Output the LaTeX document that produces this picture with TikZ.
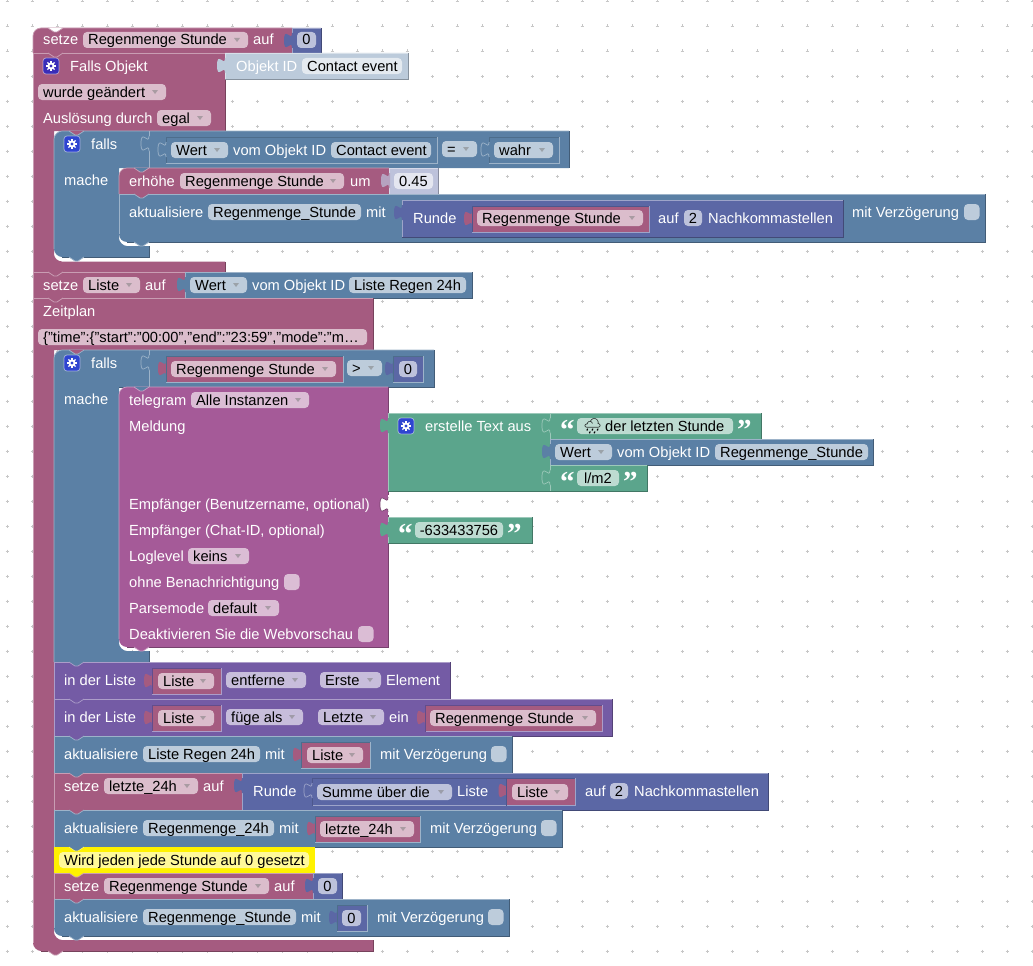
\documentclass[tikz,border=0pt]{standalone}
\usepackage{fontspec}
\setmainfont{Liberation Sans}
\newfontfamily\bkEmo{Noto Emoji}
\newfontfamily\bkQuote{Liberation Serif}[BoldFont={Liberation Serif Bold}]
\definecolor{pk}{HTML}{A55B80}
\definecolor{bl}{HTML}{5B80A5}
\definecolor{ind}{HTML}{5B67A5}
\definecolor{pur}{HTML}{745BA5}
\definecolor{grn}{HTML}{5BA58C}
\definecolor{tel}{HTML}{A55A98}
\definecolor{shb}{HTML}{BCCBDB}
\definecolor{shi}{HTML}{BDC2DB}
\definecolor{gearb}{HTML}{2F45D0}
\definecolor{gearp}{HTML}{3A2DB8}
\newcount\bkn
\tikzset{
 edge/.style={line width=.7pt},
 txt/.style={anchor=base west,inner sep=0pt,font=\fontsize{14.67}{16}\selectfont},
 dotm/.style={draw=black!22,line width=.5pt}
}
\newcommand{\bkRect}[7]{%
 \fill[#1] (#2,#3+#6) .. controls (#2,#3+.45*#6) and (#2+.45*#6,#3) .. (#2+#6,#3) -- (#4,#3) -- (#4,#5) -- (#2+#7,#5) .. controls (#2+.45*#7,#5) and (#2,#5-.45*#7) .. (#2,#5-#7) -- cycle;
 \draw[#1!60!white,edge] (#2,#5-#7) -- (#2,#3+#6) .. controls (#2,#3+.45*#6) and (#2+.45*#6,#3) .. (#2+#6,#3) -- (#4,#3);
 \draw[#1!72!black,edge] (#2+#7,#5) -- (#4,#5) -- (#4,#3);
}
% inner value block with inset outline
\newcommand{\bkVal}[6]{% col, x1,y1,x2,y2, outline
 \bkTab{#1}{#2}{#3}%
 \fill[#1] (#2,#3) rectangle (#4,#5);
 \draw[#6!60!white,edge] (#2,#5) -- (#4,#5) -- (#4,#3);
 \draw[#6!85!black,edge] (#2,#5) -- (#2,#3) -- (#4,#3);
}
\newcommand{\bkTab}[3]{%
 \fill[#1] (#2,#3+5) .. controls (#2,#3+15) and (#2-8,#3-3) .. (#2-8,#3+12.5) .. controls (#2-8,#3+28) and (#2,#3+10) .. (#2,#3+20) -- (#2+1,#3+20) -- (#2+1,#3+5) -- cycle;
}
\newcommand{\bkTabL}[3]{%
 \bkTab{#1}{#2}{#3}%
 \draw[#1!60!white,edge] (#2,#3+5) .. controls (#2,#3+15) and (#2-8,#3-3) .. (#2-8,#3+12.5) .. controls (#2-8,#3+28) and (#2,#3+10) .. (#2,#3+20);
}
\newcommand{\bkN}[4]{% fill, x1, y, line colour
 \fill[#1] (#2+15,#3) -- (#2+21,#3+4) -- (#2+24,#3+4) -- (#2+30,#3) -- cycle;
 \draw[#4!60!white,edge] (#2+15,#3) -- (#2+21,#3+4) -- (#2+24,#3+4) -- (#2+30,#3);
}
\newcommand{\bkT}[3]{\global\advance\bkn by 1 \node[txt,text=white] (n\the\bkn) at (#1,#2+5) {#3};}
\newcommand{\bkB}[3]{\global\advance\bkn by 1 \node[txt,text=black] (n\the\bkn) at (#1,#2+5) {#3};}
\newcommand{\bkPill}[3]{\fill[white,fill opacity=.6,rounded corners=4pt] (#1,#3-8) rectangle (#2,#3+8);}
\newcommand{\bkF}[4]{\bkPill{#1}{#2}{#3}\bkB{#1+5}{#3}{#4}}
\newcommand{\bkC}[4]{\bkPill{#1}{#2}{#3}\global\advance\bkn by 1 \node[anchor=base,inner sep=0pt,font=\fontsize{14.67}{16}\selectfont,text=black] (n\the\bkn) at ({(#1+#2)/2},#3+5) {#4};}
\newcommand{\bkD}[4]{\bkF{#1}{#2}{#3}{#4}\fill[black!50,fill opacity=.55] (#2-14,#3-2) -- (#2-8,#3-2) -- (#2-11,#3+2) -- cycle;}
\newcommand{\bkChk}[2]{\fill[white,fill opacity=.6,rounded corners=4pt] (#1,#2-8) rectangle (#1+15.5,#2+8);}
\newcommand{\bkGear}[3]{% x1, yc, colour
 \fill[#3,rounded corners=3pt] (#1,#2-8) rectangle (#1+16,#2+8);
 \draw[white,opacity=.5,edge,rounded corners=3pt] (#1,#2-8) rectangle (#1+16,#2+8);
 \foreach \a in {0,45,...,315}{\draw[white,line width=1.3pt] (#1+8,#2) ++(\a:2.5pt) -- ++(\a:2.6pt);}
 \fill[white] (#1+8,#2) circle[radius=3.6pt];
 \fill[#3] (#1+8,#2) circle[radius=1.6pt];
}
\newcommand{\bkQL}[2]{\global\advance\bkn by 1 \node[anchor=base west,inner sep=0pt,text=white,font=\bkQuote\bfseries\fontsize{29}{29}\selectfont] (n\the\bkn) at (#1,#2+13) {“};}
\newcommand{\bkQR}[2]{\global\advance\bkn by 1 \node[anchor=base west,inner sep=0pt,text=white,font=\bkQuote\bfseries\fontsize{29}{29}\selectfont] (n\the\bkn) at (#1,#2+13) {”};}
\begin{document}
\begin{tikzpicture}[x=1pt,y=-1pt]
\useasboundingbox (0,0) rectangle (1033,966);
\fill[white] (0,0) rectangle (1033,966);
% grid
\foreach \i in {0,...,41}{\foreach \j in {0,...,38}{
 \draw[dotm] (7+25*\i-1.5,1+25*\j) -- (7+25*\i+1.5,1+25*\j) (7+25*\i,1+25*\j-1.5) -- (7+25*\i,1+25*\j+1.5);}}

% ---------- outer C block "Falls Objekt"
\bkRect{pk}{33}{28}{292}{53}{8}{0}
\bkRect{ind}{292}{28}{321}{53}{0}{0}
\bkTab{ind}{292}{28}
\fill[pk] (33,53) -- (225,53) -- (225,131) -- (54,131) -- (54,254) .. controls (54,258) and (58,261.5) .. (62,261.5) -- (225,261.5) -- (225,272) -- (33,272) -- cycle;
\draw[pk!60!white,edge] (33,272) -- (33,53) -- (225,53);
\draw[pk!72!black,edge] (225,53) -- (225,131);
\draw[pk!72!black,edge] (33,272) -- (225,272) -- (225,261.5);
\bkRect{shb}{225}{53}{408}{79}{0}{0}
\bkTab{shb}{225}{53}

% ---------- falls 1
\fill[bl] (54,139) .. controls (54,135) and (58,131) .. (62,131) -- (569,131) -- (569,168) -- (119,168) -- (119,238) .. controls (119,242) and (123,246) .. (127,246) -- (149,246) -- (149,257) -- (62,257) .. controls (58,257) and (54,253) .. (54,249) -- cycle;
\draw[bl!60!white,edge] (54,249) -- (54,139) .. controls (54,135) and (58,131) .. (62,131) -- (569,131);
\draw[bl!72!black,edge] (569,131) -- (569,168) (149,246) -- (149,257) -- (62,257);
\draw[bl!60!white,edge] (149,131) -- (149,168);
\bkTabL{bl}{149}{131}
\bkVal{bl}{166}{137}{437}{163}{bl}
\bkTabL{bl}{166}{137}
\bkVal{bl}{489}{137}{559}{163}{bl}
\bkTabL{bl}{489}{137}
\bkRect{pk}{119}{168}{389}{194}{8}{0}
\bkRect{shi}{389}{168}{438}{194}{0}{0}
\bkTab{shi!70!pk}{389}{168}
\bkRect{bl}{119}{194}{985}{242}{0}{8}
\bkRect{ind}{402}{200}{843}{237}{0}{0}
\bkTab{ind}{402}{200}
\bkVal{pk}{472}{206}{649}{232}{ind}

% ---------- setze Liste
\bkRect{pk}{33}{272}{185}{298}{0}{0}
\bkRect{bl}{185}{272}{472}{298}{0}{0}
\bkTab{bl}{185}{272}

% ---------- outer C block "Zeitplan"
\fill[pk] (33,298) -- (373,298) -- (373,350) -- (54,350) -- (54,932) .. controls (54,936) and (58,940) .. (62,940) -- (373,940) -- (373,951) -- (41,951) .. controls (37,951) and (33,947) .. (33,943) -- cycle;
\draw[pk!60!white,edge] (33,943) -- (33,298) -- (373,298);
\draw[pk!72!black,edge] (373,298) -- (373,350) (373,940) -- (373,951) -- (41,951);

% ---------- falls 2
\fill[bl] (54,358) .. controls (54,354) and (58,350) .. (62,350) -- (434,350) -- (434,387) -- (119,387) -- (119,643) .. controls (119,647) and (123,651) .. (127,651) -- (149,651) -- (149,662) -- (54,662) -- cycle;
\draw[bl!60!white,edge] (54,662) -- (54,358) .. controls (54,354) and (58,350) .. (62,350) -- (434,350);
\draw[bl!72!black,edge] (434,350) -- (434,387) -- (119,387) (149,651) -- (149,662);
\draw[bl!60!white,edge] (149,350) -- (149,387);
\bkTabL{bl}{149}{350}
\bkVal{pk}{166}{356}{343}{382}{bl}
\bkVal{ind}{393}{356}{423}{382}{bl}

% ---------- telegram
\bkRect{tel}{119}{387}{388}{647}{8}{8}
\fill[white] (388,495) rectangle (391,515);
\bkTab{white}{388}{492}
\draw[tel!72!black,edge] (388,497) .. controls (388,507) and (380,489) .. (380,504.5) .. controls (380,520) and (388,502) .. (388,512);
\bkRect{grn}{388}{413}{550}{491}{0}{0}
\bkTab{grn}{388}{413}
\bkRect{grn}{550}{413}{761}{439}{0}{0}
\bkTabL{grn}{550}{413}
\bkRect{bl}{550}{439}{873}{465}{0}{0}
\bkTab{bl}{550}{439}
\bkRect{grn}{550}{465}{647}{491}{0}{0}
\bkTabL{grn}{550}{465}
\bkRect{grn}{388}{517}{532}{543}{0}{0}
\bkTab{grn}{388}{517}

% ---------- statements below falls 2
\bkRect{pur}{54}{662}{450}{699}{0}{0}
\bkVal{pk}{152}{668}{221}{694}{pur}
\bkRect{pur}{54}{699}{612}{736}{0}{0}
\bkVal{pk}{152}{705}{221}{731}{pur}
\bkVal{pk}{425}{705}{602}{731.5}{pur}
\bkRect{bl}{54}{736}{512}{773}{0}{0}
\bkVal{pk}{301}{742}{370}{768}{bl}
\bkRect{pk}{54}{773}{242}{810}{0}{0}
\bkRect{ind}{242}{773}{768}{810}{0}{0}
\bkTab{ind}{242}{773}
\bkVal{ind}{312}{778}{575}{805.5}{ind}
\bkTabL{ind}{312}{778}
\bkVal{pk}{506.5}{778}{575}{805.5}{ind}
\bkRect{bl}{54}{810}{562}{847}{0}{0}
\bkVal{pk}{315}{816}{420}{842}{bl}
\fill[yellow] (54,847) rectangle (315,873);
\bkRect{pk}{54}{873}{313}{899}{0}{0}
\bkRect{ind}{313}{873}{342}{899}{0}{0}
\bkTab{ind}{313}{873}
\bkRect{bl}{54}{899}{509}{936}{0}{8}
\bkVal{ind}{337}{905}{367}{931}{bl}

% ---------- notches
\bkN{white}{33}{28}{pk}
\bkN{pk}{33}{53}{pk}
\bkN{pk}{54}{131}{bl}
\bkN{bl}{119}{168}{pk}
\bkN{pk}{119}{194}{bl}
\bkN{bl}{119}{242}{bl}
\bkN{bl}{54}{257}{bl}
\bkN{pk}{33}{272}{pk}
\bkN{pk}{33}{298}{pk}
\bkN{pk}{54}{350}{bl}
\bkN{bl}{119}{387}{tel}
\bkN{tel}{119}{647}{tel}
\bkN{bl}{54}{662}{pur}
\bkN{pur}{54}{699}{pur}
\bkN{pur}{54}{736}{bl}
\bkN{bl}{54}{773}{pk}
\bkN{pk}{54}{810}{bl}
\bkN{bl}{54}{847}{yellow}
\bkN{yellow}{54}{873}{pk}
\bkN{pk}{54}{899}{bl}
\bkN{bl}{54}{936}{bl}
\bkN{pk}{33}{951}{pk}

% ---------- texts: top
\bkT{43}{40}{setze}
\bkD{83}{248}{40}{Regenmenge Stunde}
\bkT{253}{40}{auf}
\bkC{297}{316}{40}{0}
\bkGear{43}{66}{gearp}
\bkT{70}{66}{Falls Objekt}
\bkT{236}{66}{Objekt ID}
\bkF{302}{402}{66}{Contact event}
\bkD{38}{166}{92}{wurde geändert}
\bkT{43}{118}{Auslösung durch}
\bkD{157}{211}{118}{egal}
\bkGear{64}{144}{gearb}
\bkT{91}{144}{falls}
\bkD{171}{228}{150}{Wert}
\bkT{233}{150}{vom Objekt ID}
\bkF{331}{431}{150}{Contact event}
\bkD{442}{477}{149}{=}
\bkD{494}{553}{150}{wahr}
\bkT{64}{180}{mache}
\bkT{129}{181}{erhöhe}
\bkD{180}{344}{181}{Regenmenge Stunde}
\bkT{350}{181}{um}
\bkC{394}{433}{181}{0.45}
\bkT{129}{212}{aktualisiere}
\bkF{208}{361}{212}{Regenmenge\_Stunde}
\bkT{366}{212}{mit}
\bkT{413}{218}{Runde}
\bkD{477}{643}{218}{Regenmenge Stunde}
\bkT{658}{218}{auf}
\bkC{684}{702}{218}{2}
\bkT{708}{218}{Nachkommastellen}
\bkT{852}{212}{mit Verzögerung}
\bkChk{964}{212}
% setze Liste
\bkT{43}{285}{setze}
\bkD{83}{140}{285}{Liste}
\bkT{145}{285}{auf}
\bkD{190}{247}{285}{Wert}
\bkT{252}{285}{vom Objekt ID}
\bkF{349}{466}{285}{Liste Regen 24h}
% Zeitplan
\bkT{43}{311}{Zeitplan}
\bkF{38}{367}{337}{\{"time":\{"start":"00:00","end":"23:59","mode":"m…}
\bkGear{64}{363}{gearb}
\bkT{91}{363}{falls}
\bkD{171}{336}{369}{Regenmenge Stunde}
\bkD{347}{382}{368}{>}
\bkC{399}{417}{369}{0}
\bkT{64}{399}{mache}
% telegram
\bkT{129}{400}{telegram}
\bkD{191}{309}{400}{Alle Instanzen}
\bkT{129}{426}{Meldung}
\bkGear{398}{426}{gearb}
\bkT{425}{426}{erstelle Text aus}
\bkQL{560}{426}
\bkPill{577}{733}{426}
\global\advance\bkn by 1 \node[txt,text=black,font=\bkEmo\fontsize{15}{15}\selectfont] (n\the\bkn) at (583,431) {🌧};
\bkB{605}{426}{der letzten Stunde}
\bkQR{737}{426}
\bkD{555}{612}{452}{Wert}
\bkT{617}{452}{vom Objekt ID}
\bkF{715}{868}{452}{Regenmenge\_Stunde}
\bkQL{560}{478}
\bkC{577}{619}{478}{l/m2}
\bkQR{623}{478}
\bkT{129}{504}{Empfänger (Benutzername, optional)}
\bkT{129}{530}{Empfänger (Chat-ID, optional)}
\bkQL{398}{530}
\bkC{415}{503}{530}{-633433756}
\bkQR{507}{530}
\bkT{129}{556}{Loglevel}
\bkD{188}{249}{556}{keins}
\bkT{129}{582}{ohne Benachrichtigung}
\bkChk{284}{582}
\bkT{129}{608}{Parsemode}
\bkD{208}{279}{608}{default}
\bkT{129}{634}{Deaktivieren Sie die Webvorschau}
\bkChk{358}{634}
% list rows
\bkT{64}{680}{in der Liste}
\bkD{158}{214}{681}{Liste}
\bkD{226}{306}{680}{entferne}
\bkD{320}{381}{680}{Erste}
\bkT{386}{680}{Element}
\bkT{64}{717}{in der Liste}
\bkD{158}{214}{718}{Liste}
\bkD{226}{303}{717}{füge als}
\bkD{318}{384}{717}{Letzte}
\bkT{389}{717}{ein}
\bkD{430}{596}{718}{Regenmenge Stunde}
\bkT{64}{754}{aktualisiere}
\bkF{143}{260}{754}{Liste Regen 24h}
\bkT{265}{754}{mit}
\bkD{307}{363}{755}{Liste}
\bkT{380}{754}{mit Verzögerung}
\bkChk{491}{754}
\bkT{64}{786}{setze}
\bkD{104}{198}{786}{letzte\_24h}
\bkT{203}{786}{auf}
\bkT{253}{791}{Runde}
\bkD{317}{452}{792}{Summe über die}
\bkT{457}{791}{Liste}
\bkD{512}{568}{792}{Liste}
\bkT{585}{791}{auf}
\bkC{610}{628}{791}{2}
\bkT{634}{791}{Nachkommastellen}
\bkT{64}{828}{aktualisiere}
\bkF{143}{274}{828}{Regenmenge\_24h}
\bkT{279}{828}{mit}
\bkD{320}{414}{829}{letzte\_24h}
\bkT{430}{828}{mit Verzögerung}
\bkChk{541}{828}
\bkPill{59}{309}{860}
\bkB{64}{860}{Wird jeden jede Stunde auf 0 gesetzt}
\bkT{64}{886}{setze}
\bkD{104}{269}{886}{Regenmenge Stunde}
\bkT{274}{886}{auf}
\bkC{318}{337}{886}{0}
\bkT{64}{917}{aktualisiere}
\bkF{143}{296}{917}{Regenmenge\_Stunde}
\bkT{301}{917}{mit}
\bkC{342}{361}{918}{0}
\bkT{377}{917}{mit Verzögerung}
\bkChk{488}{917}
\end{tikzpicture}
\end{document}
